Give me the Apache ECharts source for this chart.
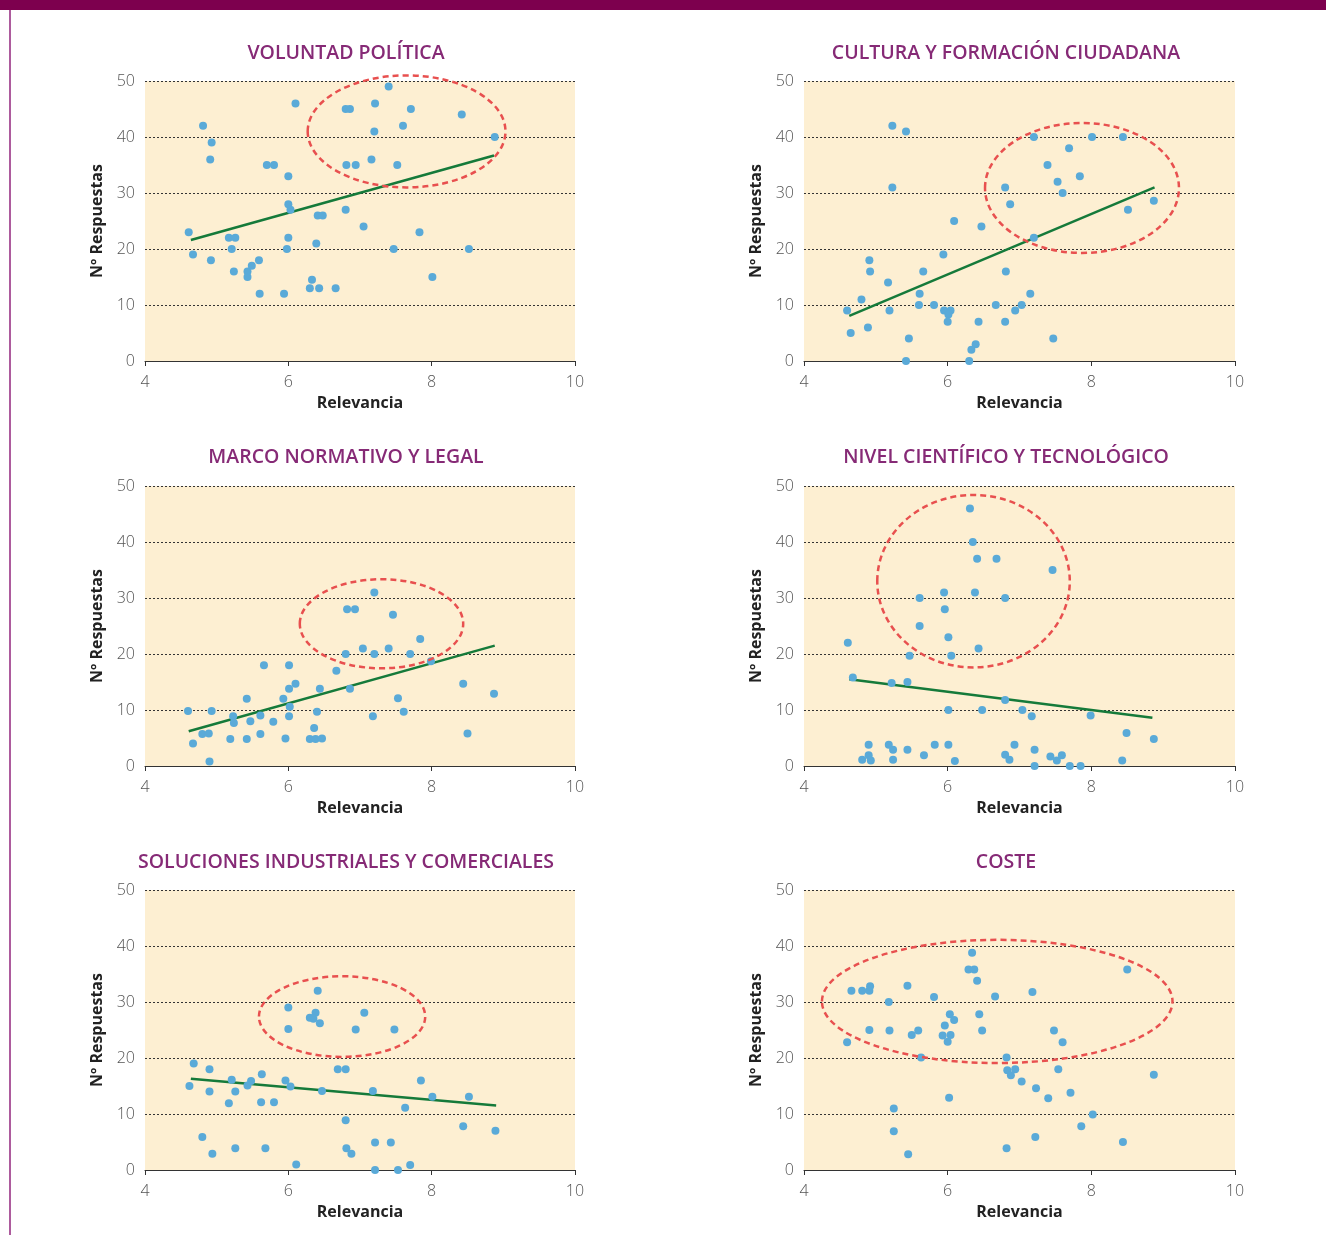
<!DOCTYPE html>
<html>
<head>
<meta charset="utf-8">
<script src="https://cdn.jsdelivr.net/npm/echarts@6/dist/echarts.min.js"></script>
<style>
html,body{margin:0;padding:0;background:#fff;}
#chart{width:1326px;height:1235px;}
</style>
</head>
<body>
<div id="chart"></div>
<script>
// ---- DATA ----
const panelTitles = ['VOLUNTAD POLÍTICA', 'CULTURA Y FORMACIÓN CIUDADANA', 'MARCO NORMATIVO Y LEGAL', 'NIVEL CIENTÍFICO Y TECNOLÓGICO', 'SOLUCIONES INDUSTRIALES Y COMERCIALES', 'COSTE'];
const xTicks = [4, 6, 8, 10];
const yTicks = [0, 10, 20, 30, 40, 50];

const voluntadPolitica = [[4.81,42],[4.93,39],[4.91,36],[6.10,46],[5.70,35],[5.80,35],[6.00,33],[6.80,45],[6.86,45],[7.21,46],[7.40,49],[7.71,45],[8.42,44],[7.20,41],[7.60,42],[8.88,40],[6.81,35],[6.94,35],[7.16,36],[7.52,35],[4.61,23],[4.67,19],[4.92,18],[5.17,22],[5.26,22],[5.21,20],[5.24,16],[5.43,16],[5.49,17],[5.43,15],[5.59,18],[5.60,12],[5.94,12],[6.00,28],[6.03,27],[6.00,22],[5.98,20],[6.41,26],[6.48,26],[6.39,21],[6.33,14.5],[6.30,13],[6.43,13],[6.66,13],[6.80,27],[7.05,24],[7.47,20],[7.83,23],[8.01,15],[8.52,20]];
const culturaFormacion = [[5.23,42],[5.42,41],[5.23,31],[7.20,40],[8.01,40],[8.44,40],[7.69,38],[7.39,35],[7.84,33],[7.53,32],[7.60,30],[6.80,31],[6.87,28],[8.87,28.6],[8.51,27],[7.20,22],[6.09,25],[6.47,24],[5.94,19],[4.91,18],[4.92,16],[5.66,16],[6.81,16],[5.17,14],[4.80,11],[5.61,12],[7.15,12],[4.60,9],[5.19,9],[5.60,10],[5.81,10],[5.95,9],[6.04,9],[6.01,8.3],[6.00,7],[6.43,7],[6.67,10],[7.03,10],[6.94,9],[6.80,7],[4.65,5],[4.89,6],[5.46,4],[7.47,4],[6.39,3],[6.33,2],[5.42,0],[6.30,0]];
const marcoNormativo = [[7.20,31],[6.82,28],[6.93,28],[7.46,27],[7.84,22.7],[7.04,21],[7.40,21],[6.80,20],[7.20,20],[7.70,20],[7.99,18.7],[5.66,18],[6.01,18],[6.67,17],[6.10,14.7],[6.01,13.8],[6.44,13.8],[6.86,13.8],[5.42,12],[5.93,12],[6.02,10.6],[8.44,14.7],[8.87,12.9],[7.53,12.1],[4.60,9.8],[4.93,9.8],[6.40,9.7],[7.61,9.7],[5.23,8.9],[5.24,7.7],[5.61,9],[6.01,8.9],[7.18,8.9],[5.47,8],[5.79,7.9],[6.36,6.8],[4.80,5.7],[4.89,5.8],[5.61,5.7],[8.50,5.8],[5.19,4.8],[5.42,4.8],[5.96,4.9],[6.30,4.8],[6.38,4.8],[6.47,4.9],[4.67,4],[4.90,0.8]];
const nivelCientifico = [[6.31,46],[6.35,40],[6.41,37],[6.68,37],[7.46,35],[5.95,31],[6.38,31],[5.61,30],[6.80,30],[5.96,28],[5.61,25],[6.01,23],[6.43,21],[5.47,19.7],[6.05,19.7],[4.61,22],[4.68,15.8],[5.22,14.8],[5.44,15],[6.80,11.8],[6.01,10],[6.48,10],[7.04,10],[7.17,8.9],[7.99,9],[8.49,5.9],[8.87,4.8],[4.90,3.8],[5.18,3.8],[5.24,2.9],[5.44,2.9],[5.82,3.8],[6.01,3.8],[6.93,3.8],[4.81,1.1],[4.90,1.9],[4.93,1.0],[5.24,1.1],[5.67,1.9],[6.10,0.9],[6.80,2],[6.86,1.1],[7.21,2.9],[7.43,1.7],[7.52,1],[7.59,1.9],[7.21,0],[7.70,0],[7.85,0],[8.43,1]];
const solucionesIndustriales = [[6.41,32],[6.00,29],[6.38,28.1],[6.30,27.2],[6.35,27],[6.44,26.2],[7.06,28.1],[6.00,25.2],[6.94,25.1],[7.48,25.1],[4.68,19],[4.90,18],[6.69,18],[6.80,18],[5.63,17.1],[5.21,16.1],[5.48,15.9],[5.96,16],[7.85,16],[4.62,15],[5.43,15.1],[6.03,14.9],[4.90,14],[5.26,14],[6.47,14.1],[7.18,14.1],[8.01,13.1],[8.52,13.1],[5.17,11.9],[5.62,12.1],[5.80,12.1],[7.63,11.1],[6.80,8.9],[4.80,5.9],[8.44,7.8],[8.89,7],[4.94,2.9],[5.26,3.9],[5.68,3.9],[6.81,3.9],[6.88,2.9],[7.21,4.9],[7.43,4.9],[6.11,1],[7.21,0],[7.53,0],[7.70,0.9]];
const coste = [[6.34,38.8],[6.29,35.8],[6.37,35.8],[6.41,33.8],[8.50,35.8],[4.66,32],[4.81,32],[4.91,32],[4.92,32.8],[5.44,32.9],[5.81,30.9],[6.66,31],[7.18,31.8],[5.18,30],[6.03,27.8],[6.09,26.8],[6.44,27.8],[5.96,25.8],[4.91,25],[5.19,24.9],[5.59,24.9],[5.50,24.1],[5.93,24],[6.04,24.1],[6.00,22.9],[6.48,24.9],[7.48,24.9],[7.60,22.8],[4.60,22.8],[5.63,20.1],[6.82,20.1],[6.83,17.8],[6.94,18],[6.88,16.9],[7.54,18],[7.03,15.8],[7.23,14.6],[7.71,13.8],[7.40,12.8],[8.87,17],[6.02,12.9],[5.25,11],[5.25,6.9],[5.45,2.8],[8.02,9.9],[7.86,7.8],[7.22,5.9],[6.82,3.9],[8.44,5]];

// trend lines: [[x1,y1],[x2,y2]] (none for COSTE)
const trendVoluntad = [[4.64,21.6],[8.87,36.7]];
const trendCultura = [[4.63,8.05],[8.88,31.0]];
const trendMarco = [[4.61,6.2],[8.88,21.5]];
const trendNivel = [[4.63,15.5],[8.85,8.6]];
const trendSoluciones = [[4.64,16.3],[8.90,11.5]];
const trendCoste = null;

// highlight ellipses: [centerX, centerY, radiusX, radiusY] in data units
const ellipseVoluntad = [7.65,41,1.38,10];
const ellipseCultura = [7.87,30.9,1.35,11.6];
const ellipseMarco = [7.30,25.4,1.14,7.95];
const ellipseNivel = [6.36,33.0,1.34,15.4];
const ellipseSoluciones = [6.75,27.4,1.16,7.2];
const ellipseCoste = [6.69,30.1,2.44,11.0];

const scatterSets = [voluntadPolitica, culturaFormacion, marcoNormativo, nivelCientifico, solucionesIndustriales, coste];
const trendSets = [trendVoluntad, trendCultura, trendMarco, trendNivel, trendSoluciones, trendCoste];
const ellipseSets = [ellipseVoluntad, ellipseCultura, ellipseMarco, ellipseNivel, ellipseSoluciones, ellipseCoste];

// ---- LAYOUT ----
const colLeft = [145, 804];
const colWidth = [430, 431];
const rowTop = [81, 486, 890];
const plotH = 280;
const titleCenterX = [346, 1006];
const titleCenterY = [53, 457, 862];

const FONT = '"Open Sans", "Noto Sans", sans-serif';
const chart = echarts.init(document.getElementById('chart'), null, {renderer: 'canvas'});

const grids = [], xAxes = [], yAxes = [], titles = [], series = [];
for (let i = 0; i < 6; i++) {
  const c = i % 2, r = Math.floor(i / 2);
  grids.push({left: colLeft[c], top: rowTop[r], width: colWidth[c], height: plotH,
    show: true, backgroundColor: '#fdefd2', borderWidth: 0, containLabel: false});
  titles.push({text: panelTitles[i], left: titleCenterX[c], top: titleCenterY[r],
    textAlign: 'center', textVerticalAlign: 'middle', padding: 0,
    textStyle: {color: '#862a76', fontSize: 19.5, fontWeight: 600, fontFamily: FONT}});
  xAxes.push({type: 'value', gridIndex: i, min: xTicks[0], max: xTicks[xTicks.length - 1], interval: 2,
    name: 'Relevancia', nameLocation: 'middle', nameGap: 34,
    nameTextStyle: {color: '#222', fontSize: 16, fontWeight: 'bold', fontFamily: FONT},
    axisLine: {show: true, onZero: false, lineStyle: {color: '#333', width: 1}},
    axisTick: {show: true, length: 5, lineStyle: {color: '#333'}},
    axisLabel: {color: '#555', fontSize: 16, margin: 13, fontFamily: FONT, fontWeight: 300},
    splitLine: {show: false}});
  yAxes.push({type: 'value', gridIndex: i, min: yTicks[0], max: yTicks[yTicks.length - 1], interval: 10,
    name: 'Nº Respuestas', nameLocation: 'middle', nameGap: 40, nameRotate: 90,
    nameTextStyle: {color: '#222', fontSize: 16, fontWeight: 'bold', fontFamily: FONT},
    axisLine: {show: false}, axisTick: {show: false},
    axisLabel: {color: '#555', fontSize: 16, margin: 10, fontFamily: FONT, fontWeight: 300},
    splitLine: {show: true, lineStyle: {color: '#333', type: [2, 2], width: 1}}});
  if (trendSets[i]) {
    series.push({type: 'line', xAxisIndex: i, yAxisIndex: i, data: trendSets[i], symbol: 'none',
      lineStyle: {color: '#157a3a', width: 2.5}, z: 3, silent: true, animation: false});
  }
  series.push({type: 'scatter', xAxisIndex: i, yAxisIndex: i, data: scatterSets[i], symbolSize: 8,
    itemStyle: {color: '#5aaad8', opacity: 1}, z: 4, animation: false});
  series.push({type: 'custom', xAxisIndex: i, yAxisIndex: i, data: [ellipseSets[i]],
    encode: {x: 0, y: 1}, z: 5, silent: true, animation: false, clip: false,
    renderItem: function (params, api) {
      const ctr = api.coord([api.value(0), api.value(1)]);
      const sz = api.size([api.value(2), api.value(3)]);
      return {type: 'ellipse', shape: {cx: ctr[0], cy: ctr[1], rx: sz[0], ry: sz[1]},
        style: {fill: 'none', stroke: '#e8504f', lineWidth: 2.5, lineDash: [6, 4]}};
    }});
}

chart.setOption({
  animation: false,
  backgroundColor: '#fff',
  title: titles,
  grid: grids,
  xAxis: xAxes,
  yAxis: yAxes,
  series: series,
  graphic: [
    {type: 'rect', left: 0, top: 0, shape: {width: 1326, height: 10}, style: {fill: '#7d004e'}, silent: true},
    {type: 'rect', left: 9, top: 10, shape: {width: 2, height: 1225}, style: {fill: '#ad5b9d'}, silent: true}
  ]
});
</script>
</body>
</html>
